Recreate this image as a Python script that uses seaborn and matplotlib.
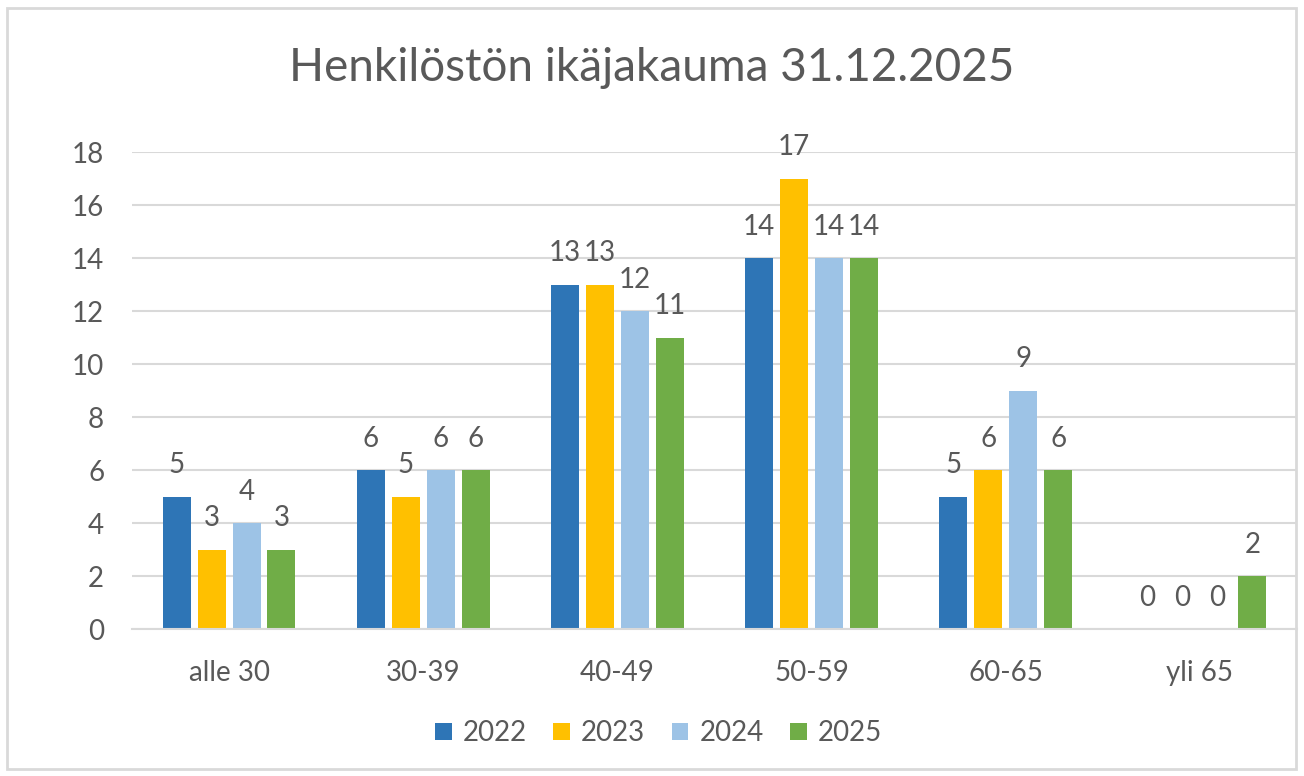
import numpy as np
import pandas as pd
import matplotlib
matplotlib.use("Agg")
import matplotlib.pyplot as plt
import seaborn as sns
from matplotlib.patches import Rectangle

# data
groups = ['alle 30', '30-39', '40-49', '50-59', '60-65', 'yli 65']
years = ['2022', '2023', '2024', '2025']
v2022 = [5, 6, 13, 14, 5, 0]
v2023 = [3, 5, 13, 17, 6, 0]
v2024 = [4, 6, 12, 14, 9, 0]
v2025 = [3, 6, 11, 14, 6, 2]
colors = ['#2E75B6', '#FFC000', '#9DC3E6', '#70AD47']

df = pd.DataFrame({
	'ryhma': groups * 4,
	'vuosi': np.repeat(years, len(groups)),
	'lkm': v2022 + v2023 + v2024 + v2025,
})

sns.set_theme(style='white')
plt.rcParams['font.family'] = ['Lato', 'DejaVu Sans']
txt = '#595959'
grid = '#D9D9D9'
fs = 20

fig = plt.figure(figsize=(13.04, 7.76), dpi=100)
ax = fig.add_axes([0.1012, 0.1894, 0.8934, 0.6147])

sns.barplot(data=df, x='ryhma', y='lkm', hue='vuosi', order=groups, hue_order=years,
			palette=colors, width=0.72, gap=0.2, ax=ax, saturation=1, errorbar=None,
			linewidth=0)

for c in ax.containers:
	ax.bar_label(c, padding=13, fontsize=fs, color=txt)

ax.set_ylim(0, 18)
ax.set_yticks(range(0, 19, 2))
ax.set_xlim(-0.5, len(groups) - 0.5)
ax.yaxis.grid(True, color=grid, lw=1.5)
ax.set_axisbelow(True)
for s in ['top', 'right', 'left']:
	ax.spines[s].set_visible(False)
ax.spines['bottom'].set_color(grid)
ax.spines['bottom'].set_linewidth(1.5)
ax.tick_params(axis='both', length=0, labelsize=fs, colors=txt)
ax.tick_params(axis='x', pad=22)
ax.tick_params(axis='y', pad=20)
ax.set_xlabel('')
ax.set_ylabel('')

fig.suptitle('Henkilöstön ikäjakauma 31.12.2025', fontsize=33, color=txt, y=0.94)

handles, labels = ax.get_legend_handles_labels()
ax.legend_.remove()
fig.legend(handles, labels, loc='center', bbox_to_anchor=(0.505, 0.055), ncol=4, frameon=False,
		   fontsize=fs, labelcolor=txt, handlelength=0.6, handleheight=0.6, handletextpad=0.4,
		   columnspacing=0.95)

fig.patches.append(Rectangle((0.005, 0.009), 0.989, 0.981, transform=fig.transFigure,
							 fill=False, edgecolor='#D9D9D9', lw=2))

fig.savefig('out.png', dpi=100, facecolor='white')
